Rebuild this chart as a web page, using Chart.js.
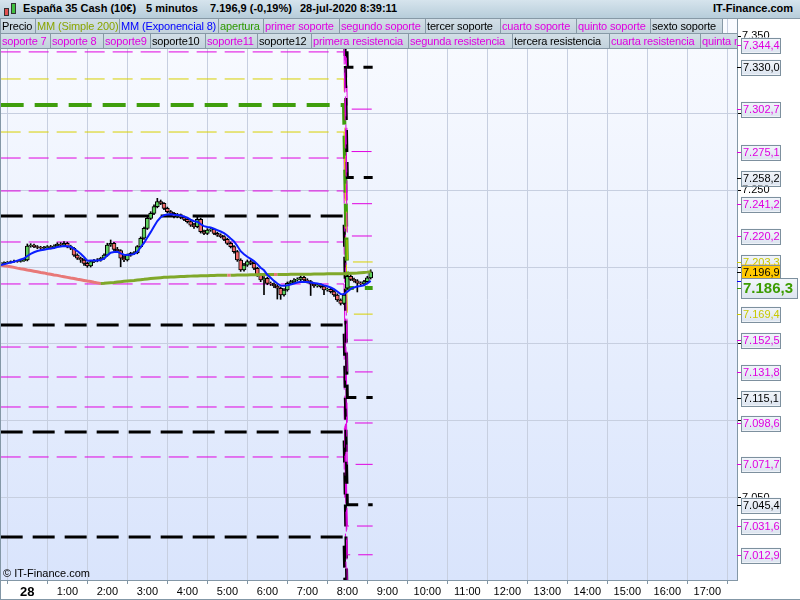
<!DOCTYPE html>
<html>
<head>
<meta charset="utf-8">
<script src="https://cdn.jsdelivr.net/npm/chart.js@4.4.0/dist/chart.umd.min.js"></script>
<style>
  body { margin: 0; width: 800px; height: 600px; position: relative; overflow: hidden; background: #fff;
         font-family: "Liberation Sans", Arial, sans-serif; }
  #grafico { position: absolute; left: 0; top: 0; }
  #titulo { position: absolute; left: 0; top: 0; width: 800px; height: 19px;
            background: linear-gradient(#d6e4ed, #b7cdda); border-bottom: 1px solid #8799a6; box-sizing: border-box; }
  #titulo span { position: absolute; top: 2px; font: bold 11px "Liberation Sans", Arial, sans-serif; color: #000; white-space: nowrap; }
  .fila { position: absolute; left: 0; width: 737px; height: 16px; overflow: hidden; }
  .fila span { position: absolute; top: 0; height: 16px; box-sizing: border-box; border: 1px solid #8799a6;
               background: linear-gradient(#d3dfe7, #c2d2dc); font-size: 11px; line-height: 14px; padding-left: 1px;
               letter-spacing: -0.15px; white-space: nowrap; overflow: hidden; }
  #copy { position: absolute; left: 3px; top: 567px; font-size: 11px; color: #000; }
  .vela { position: absolute; border: 1px solid #333; width: 3px; }
</style>
</head>
<body>
<canvas id="grafico" width="800" height="600"></canvas>

<div id="titulo">
  <div class="vela" style="left:4px;top:8px;height:6px;background:#e05050"></div>
  <div class="vela" style="left:11px;top:3px;height:9px;background:#40c040"></div>
  <span style="left:23px">España 35 Cash (10€)</span>
  <span style="left:146px">5 minutos</span>
  <span style="left:210px">7.196,9 (-0,19%)</span>
  <span style="left:300px">28-jul-2020 8:39:11</span>
  <span style="left:713px">IT-Finance.com</span>
</div>

<div class="fila" style="top:18px">
  <span style="left:0;width:36px;color:#000">Precio</span>
  <span style="left:35px;width:85px;color:#8aa500">MM (Simple 200)</span>
  <span style="left:119px;width:100px;color:#0000ff">MM (Exponencial 8)</span>
  <span style="left:218px;width:46px;color:#2e9a00">apertura</span>
  <span style="left:263px;width:77px;color:#e000e0">primer soporte</span>
  <span style="left:339px;width:87px;color:#e000e0">segundo soporte</span>
  <span style="left:425px;width:76px;color:#000">tercer soporte</span>
  <span style="left:500px;width:77px;color:#e000e0">cuarto soporte</span>
  <span style="left:576px;width:75px;color:#e000e0">quinto soporte</span>
  <span style="left:650px;width:73px;color:#000">sexto soporte</span>
</div>
<div class="fila" style="top:33px">
  <span style="left:0;width:51px;color:#e000e0">soporte 7</span>
  <span style="left:50px;width:54px;color:#e000e0">soporte 8</span>
  <span style="left:103px;width:48px;color:#e000e0">soporte9</span>
  <span style="left:150px;width:56px;color:#000">soporte10</span>
  <span style="left:205px;width:53px;color:#e000e0">soporte11</span>
  <span style="left:257px;width:55px;color:#000">soporte12</span>
  <span style="left:311px;width:98px;color:#e000e0">primera resistencia</span>
  <span style="left:408px;width:105px;color:#e000e0">segunda resistencia</span>
  <span style="left:512px;width:98px;color:#000">tercera resistencia</span>
  <span style="left:609px;width:92px;color:#e000e0">cuarta resistencia</span>
  <span style="left:700px;width:100px;color:#e000e0">quinta resistencia</span>
</div>

<div id="copy">© IT-Finance.com</div>

<script>
// Eje horizontal: minutos desde las 0:00 del día 28
const horas = [0, 60, 120, 180, 240, 300, 360, 420, 480, 540, 600, 660, 720, 780, 840, 900, 960, 1020];
const etiquetasHoras = ['28', '1:00', '2:00', '3:00', '4:00', '5:00', '6:00', '7:00', '8:00', '9:00',
                        '10:00', '11:00', '12:00', '13:00', '14:00', '15:00', '16:00', '17:00'];
const ticksPrecio = [7050, 7100, 7150, 7200, 7250, 7300, 7350];

// Velas de 5 minutos, la primera a las 23:20 del día anterior
const inicioVelas = -40;
const pasoVelas = 5;

const aperturas = [
  7202.0, 7202.4, 7202.9, 7203.1, 7203.5, 7203.9, 7203.7, 7204.2, 7204.6, 7213.7,
  7214.3, 7213.3, 7212.8, 7212.2, 7212.6, 7213.3, 7212.6, 7213.7, 7215.0, 7214.3,
  7215.4, 7213.3, 7212.2, 7207.8, 7205.7, 7204.6, 7202.4, 7200.7, 7203.5, 7204.2,
  7204.6, 7205.7, 7207.8, 7214.3, 7215.4, 7211.5, 7210.7, 7205.7, 7204.6, 7207.8,
  7208.9, 7209.4, 7213.3, 7218.7, 7225.2, 7231.7, 7234.9, 7239.3, 7242.5, 7241.4,
  7238.2, 7236.0, 7234.9, 7232.8, 7233.8, 7232.3, 7231.0, 7229.5, 7227.3, 7226.3,
  7231.0, 7223.0, 7221.9, 7224.1, 7224.5, 7221.9, 7220.8, 7219.8, 7218.0, 7215.4,
  7213.3, 7210.0, 7204.6, 7198.1, 7201.3, 7203.5, 7202.4, 7199.2, 7194.8, 7191.6,
  7192.7, 7189.4, 7189.0, 7187.7, 7186.2, 7181.8, 7185.1, 7189.4, 7190.5, 7191.6,
  7192.0, 7193.3, 7191.6, 7190.5, 7189.0, 7187.7, 7188.4, 7187.3, 7185.1, 7185.5,
  7184.0, 7181.8, 7178.6, 7176.4,
  7186.3, 7194.0, 7192.0, 7191.0, 7189.5, 7189.0, 7190.5, 7193.0
];
const maximos = [
  7203.0, 7203.4, 7203.6, 7204.0, 7204.5, 7204.3, 7204.8, 7205.2, 7215.0, 7215.2,
  7214.9, 7214.0, 7213.5, 7213.4, 7214.0, 7214.1, 7214.5, 7215.8, 7215.9, 7216.5,
  7216.2, 7214.2, 7212.9, 7208.6, 7206.5, 7205.3, 7203.2, 7204.3, 7205.0, 7205.5,
  7206.4, 7208.6, 7215.5, 7217.6, 7216.1, 7212.8, 7211.3, 7207.4, 7208.5, 7209.6,
  7210.1, 7214.0, 7219.6, 7226.0, 7232.6, 7236.0, 7240.5, 7244.7, 7243.6, 7242.0,
  7239.0, 7236.8, 7235.6, 7234.9, 7234.5, 7233.1, 7231.9, 7230.3, 7228.4, 7232.6,
  7231.8, 7224.0, 7225.0, 7225.6, 7225.2, 7222.7, 7221.6, 7220.5, 7218.8, 7216.3,
  7214.0, 7210.8, 7205.4, 7202.5, 7204.6, 7204.4, 7203.1, 7199.9, 7195.6, 7193.8,
  7193.5, 7190.3, 7189.8, 7188.6, 7187.0, 7186.0, 7190.3, 7191.4, 7192.5, 7193.0,
  7194.2, 7194.0, 7192.4, 7191.3, 7189.8, 7189.3, 7189.1, 7188.0, 7186.4, 7186.2,
  7184.8, 7182.6, 7179.3, 7182.7,
  7196.0, 7195.0, 7192.8, 7191.8, 7190.4, 7191.3, 7194.0, 7198.2
];
const minimos = [
  7201.4, 7201.9, 7202.2, 7202.6, 7203.0, 7203.1, 7203.2, 7203.6, 7204.0, 7212.9,
  7212.6, 7211.9, 7211.4, 7211.5, 7211.9, 7211.8, 7212.0, 7212.9, 7213.5, 7213.6,
  7212.5, 7211.3, 7206.9, 7204.9, 7203.0, 7201.1, 7199.8, 7200.0, 7202.8, 7203.4,
  7203.8, 7204.9, 7207.0, 7213.4, 7210.6, 7209.8, 7200.2, 7203.5, 7203.9, 7207.0,
  7208.1, 7208.6, 7212.5, 7217.9, 7224.4, 7230.9, 7234.0, 7238.5, 7240.6, 7237.3,
  7235.1, 7234.0, 7231.9, 7232.0, 7231.4, 7230.2, 7228.6, 7226.4, 7225.2, 7225.5,
  7222.1, 7221.0, 7221.1, 7223.2, 7221.0, 7219.9, 7219.0, 7217.1, 7214.5, 7212.4,
  7209.1, 7203.7, 7197.2, 7197.4, 7200.4, 7201.5, 7198.3, 7193.9, 7190.5, 7182.0,
  7188.5, 7188.0, 7186.6, 7179.2, 7179.0, 7181.0, 7184.3, 7188.6, 7189.6, 7190.8,
  7191.1, 7190.8, 7189.6, 7181.5, 7186.8, 7186.9, 7186.4, 7182.0, 7184.3, 7183.1,
  7180.9, 7177.6, 7175.3, 7175.6,
  7185.5, 7191.2, 7190.1, 7183.8, 7188.1, 7188.3, 7189.7, 7192.2
];
const cierres = [
  7202.4, 7202.9, 7203.1, 7203.5, 7203.9, 7203.7, 7204.2, 7204.6, 7213.7, 7214.3,
  7213.3, 7212.8, 7212.2, 7212.6, 7213.3, 7212.6, 7213.7, 7215.0, 7214.3, 7215.4,
  7213.3, 7212.2, 7207.8, 7205.7, 7204.6, 7202.4, 7200.7, 7203.5, 7204.2, 7204.6,
  7205.7, 7207.8, 7214.3, 7215.4, 7211.5, 7210.7, 7205.7, 7204.6, 7207.8, 7208.9,
  7209.4, 7213.3, 7218.7, 7225.2, 7231.7, 7234.9, 7239.3, 7242.5, 7241.4, 7238.2,
  7236.0, 7234.9, 7232.8, 7233.8, 7232.3, 7231.0, 7229.5, 7227.3, 7226.3, 7231.0,
  7223.0, 7221.9, 7224.1, 7224.5, 7221.9, 7220.8, 7219.8, 7218.0, 7215.4, 7213.3,
  7210.0, 7204.6, 7198.1, 7201.3, 7203.5, 7202.4, 7199.2, 7194.8, 7191.6, 7192.7,
  7189.4, 7189.0, 7187.7, 7186.2, 7181.8, 7185.1, 7189.4, 7190.5, 7191.6, 7192.0,
  7193.3, 7191.6, 7190.5, 7189.0, 7187.7, 7188.4, 7187.3, 7185.1, 7185.5, 7184.0,
  7181.8, 7178.6, 7176.4, 7181.8,
  7194.0, 7192.0, 7191.0, 7189.5, 7189.0, 7190.5, 7193.0, 7196.9
];

// Medias móviles, un valor por vela
const mmSimple200 = [
  7201.3, 7200.9, 7200.5, 7200.2, 7199.8, 7199.3, 7198.9, 7198.6, 7198.1, 7197.7,
  7197.3, 7196.9, 7196.5, 7196.2, 7195.7, 7195.3, 7194.9, 7194.6, 7194.1, 7193.7,
  7193.3, 7192.9, 7192.6, 7192.1, 7191.7, 7191.3, 7190.9, 7190.6, 7190.1, 7189.7,
  7189.3, 7189.4, 7189.6, 7189.8, 7190.0, 7190.3, 7190.5, 7190.7, 7190.9, 7191.1,
  7191.3, 7191.6, 7191.8, 7192.0, 7192.3, 7192.5, 7192.7, 7192.9, 7193.1, 7193.3,
  7193.4, 7193.5, 7193.6, 7193.7, 7193.8, 7193.9, 7194.0, 7194.1, 7194.2, 7194.2,
  7194.3, 7194.4, 7194.4, 7194.5, 7194.5, 7194.6, 7194.6, 7194.7, 7194.7, 7194.6,
  7194.7, 7194.8, 7194.8, 7194.9, 7194.9, 7195.0, 7195.0, 7195.0, 7195.1, 7195.1,
  7195.1, 7195.2, 7195.2, 7195.1, 7195.1, 7195.2, 7195.2, 7195.3, 7195.3, 7195.3,
  7195.4, 7195.4, 7195.4, 7195.4, 7195.5, 7195.5, 7195.5, 7195.5, 7195.6, 7195.6,
  7195.6, 7195.6, 7195.7, 7195.7,
  7195.8, 7195.9, 7196.0, 7196.1, 7196.3, 7196.5, 7196.7, 7197.0
];
const mmExpo8 = [
  7201.3, 7201.8, 7202.4, 7203.0, 7203.5, 7204.2, 7204.9, 7205.6, 7207.2, 7208.6,
  7209.6, 7210.4, 7210.9, 7211.3, 7211.7, 7212.0, 7212.4, 7213.0, 7213.3, 7213.7,
  7213.5, 7213.2, 7211.8, 7210.4, 7208.6, 7206.5, 7204.1, 7204.2, 7204.2, 7204.3,
  7204.6, 7205.4, 7207.6, 7209.3, 7209.8, 7210.0, 7208.9, 7208.0, 7207.9, 7208.1,
  7208.4, 7209.9, 7212.9, 7215.7, 7219.2, 7222.7, 7226.4, 7229.9, 7232.4, 7233.7,
  7234.2, 7234.4, 7234.0, 7233.9, 7233.5, 7232.9, 7232.1, 7230.9, 7229.8, 7229.5,
  7227.9, 7226.6, 7226.1, 7225.7, 7224.9, 7224.0, 7223.1, 7222.0, 7220.5, 7218.5,
  7216.6, 7213.7, 7210.3, 7208.3, 7206.7, 7205.3, 7203.9, 7201.9, 7199.6, 7197.9,
  7195.0, 7193.0, 7191.0, 7189.3, 7188.0, 7187.8, 7188.2, 7188.7, 7189.3, 7190.0,
  7190.5, 7190.3, 7190.2, 7190.0, 7189.6, 7189.3, 7188.9, 7188.1, 7187.5, 7186.7,
  7185.6, 7184.1, 7182.4, 7182.3,
  7184.0, 7185.8, 7186.7, 7187.4, 7187.7, 7188.2, 7189.3, 7191.0
];

// Niveles: valor de la sesión anterior y valor de la sesión nueva (desde las 8:00)
const cambioSesion = 480;
const finNiveles = 518;
const nivelNombres = [
  'primera resistencia', 'segunda resistencia', 'tercera resistencia', 'cuarta resistencia', 'quinta resistencia',
  'sexta resistencia', 'séptima resistencia', 'zona alta', 'apertura', 'zona baja',
  'primer soporte', 'segundo soporte', 'tercer soporte', 'cuarto soporte', 'quinto soporte', 'sexto soporte',
  'soporte 7', 'soporte 8', 'soporte9', 'soporte10', 'soporte11', 'soporte12'
];
const nivelAnterior = [
  7339.9, 7360.8, 7378.0, 7395.0, 7422.5,
  7450.0, 7464.0, 7322.3, 7305.4, 7287.8,
  7270.9, 7249.5, 7233.2, 7216.3, 7189.0, 7162.3,
  7148.0, 7128.5, 7109.0, 7092.8, 7076.5, 7024.5
];
const nivelNuevo = [
  7220.2, 7241.2, 7258.2, 7275.1, 7302.7,
  7330.0, 7344.4, 7203.3, 7186.3, 7169.4,
  7152.5, 7131.8, 7115.1, 7098.6, 7071.7, 7045.4,
  7031.6, 7012.9, 6992.5, 6975.9, 6959.7, 6907.6
];
const nivelEstilo = [
  'm', 'm', 'k', 'm', 'm',
  'k', 'm', 'y', 'g', 'y',
  'm', 'm', 'k', 'm', 'm', 'k',
  'm', 'm', 'm', 'k', 'm', 'k'
];

const ultimoPrecio = 7196.9;

// Estilos de las líneas de nivel
const estilos = {
  m: { color: '#e000e0', width: 1, dash: [20, 8], texto: '#e000e0' },
  k: { color: '#000000', width: 3, dash: [22, 10], texto: '#000000' },
  y: { color: '#d8d000', width: 1, dash: [20, 8], texto: '#c8c800' },
  g: { color: '#3f9e0c', width: 4, dash: [23, 11], texto: '#3c9c00' }
};

function formatoPrecio(v, decimales) {
  const partes = v.toFixed(decimales).split('.');
  const miles = partes[0].slice(0, -3) + '.' + partes[0].slice(-3);
  return decimales ? miles + ',' + partes[1] : miles;
}

const tiempoVela = (i) => inicioVelas + pasoVelas * i;

// Datasets de niveles
const datasetsNiveles = nivelNombres.map((nombre, i) => {
  const e = estilos[nivelEstilo[i]];
  return {
    type: 'line',
    label: nombre,
    data: [
      { x: inicioVelas, y: nivelAnterior[i] },
      { x: cambioSesion - pasoVelas, y: nivelAnterior[i] },
      { x: cambioSesion, y: nivelNuevo[i] },
      { x: finNiveles, y: nivelNuevo[i] }
    ],
    borderColor: e.color,
    borderWidth: e.width,
    borderDash: e.dash,
    borderCapStyle: 'butt',
    pointRadius: 0,
    tension: 0,
    fill: false,
    order: 10
  };
});

// Fondo degradado del área del gráfico
const fondoPlugin = {
  id: 'fondo',
  beforeDraw(chart) {
    const { ctx, chartArea: a } = chart;
    const g = ctx.createLinearGradient(0, a.top, 0, a.bottom);
    g.addColorStop(0, '#f9fbff');
    g.addColorStop(1, '#d9e4fc');
    ctx.save();
    ctx.fillStyle = g;
    ctx.fillRect(a.left, a.top, a.right - a.left, a.bottom - a.top);
    ctx.restore();
  }
};

// Etiquetas de precio a la derecha + marco
const etiquetasPlugin = {
  id: 'etiquetas',
  afterDraw(chart) {
    const { ctx, chartArea: a } = chart;
    const ys = chart.scales.y;
    ctx.save();
    ctx.strokeStyle = '#8397a6';
    ctx.lineWidth = 1;
    ctx.strokeRect(a.left - 0.5, a.top - 0.5, a.right - a.left + 1, a.bottom - a.top + 1);
    ctx.beginPath();
    ctx.moveTo(0.5, 0); ctx.lineTo(0.5, 600);
    ctx.moveTo(0, 599.5); ctx.lineTo(800, 599.5);
    ctx.stroke();

    function caja(valor, colorTexto, fondo, grande) {
      const y = Math.round(ys.getPixelForValue(valor));
      const h = grande ? 20 : 15;
      const w = grande ? 56 : 39;
      const x = a.right + 4;
      ctx.strokeStyle = colorTexto;
      ctx.beginPath();
      ctx.moveTo(a.right, y + 0.5); ctx.lineTo(x, y + 0.5);
      ctx.stroke();
      if (fondo) {
        ctx.fillStyle = fondo;
      } else {
        const g = ctx.createLinearGradient(0, y - h / 2, 0, y + h / 2);
        g.addColorStop(0, '#f3f6fb');
        g.addColorStop(1, '#dde5f0');
        ctx.fillStyle = g;
      }
      ctx.fillRect(x, y - h / 2, w, h);
      ctx.strokeStyle = '#7d909e';
      ctx.strokeRect(x + 0.5, Math.round(y - h / 2) + 0.5, w, h);
      ctx.fillStyle = colorTexto;
      ctx.font = grande ? 'bold 15px "Liberation Sans", Arial' : '11px "Liberation Sans", Arial';
      ctx.textBaseline = 'middle';
      ctx.textAlign = 'left';
      ctx.fillText(formatoPrecio(valor, 1), x + 2, y + 1);
    }

    nivelNuevo.forEach((v, i) => {
      if (nivelEstilo[i] === 'g' || v < ys.min || v > ys.max) return;
      caja(v, estilos[nivelEstilo[i]].texto, null, false);
    });
    caja(mmExpo8[mmExpo8.length - 1], '#0000ff', null, false);
    caja(ultimoPrecio, '#000000', '#ffc800', false);
    const ap = nivelEstilo.indexOf('g');
    caja(nivelNuevo[ap], estilos.g.texto, null, true);
    ctx.restore();
  }
};

const ctx = document.getElementById('grafico').getContext('2d');
new Chart(ctx, {
  type: 'bar',
  data: {
    datasets: [
      {
        type: 'line',
        label: 'MM (Exponencial 8)',
        data: mmExpo8.map((v, i) => ({ x: tiempoVela(i), y: v })),
        borderColor: '#0a1eff',
        borderWidth: 2,
        pointRadius: 0,
        tension: 0,
        order: 0
      },
      {
        type: 'line',
        label: 'MM (Simple 200)',
        data: mmSimple200.map((v, i) => ({ x: tiempoVela(i), y: v })),
        borderColor: '#80a82a',
        borderWidth: 3,
        pointRadius: 0,
        tension: 0,
        segment: {
          borderColor: (c) => c.p1.parsed.y < c.p0.parsed.y ? '#e87878' : '#80a82a'
        },
        order: 1
      },
      {
        label: 'Precio',
        data: cierres.map((c, i) => ({ x: tiempoVela(i), y: [aperturas[i], c] })),
        backgroundColor: (c) => (c.raw && c.raw.y[1] >= c.raw.y[0]) ? '#5fd05f' : '#f06a6a',
        borderColor: '#000',
        borderWidth: 1,
        borderSkipped: false,
        barThickness: 4,
        grouped: false,
        order: 2
      },
      {
        label: 'mechas',
        data: cierres.map((c, i) => ({ x: tiempoVela(i), y: [minimos[i], maximos[i]] })),
        backgroundColor: '#000',
        barThickness: 1,
        grouped: false,
        order: 3
      },
      ...datasetsNiveles
    ]
  },
  options: {
    responsive: false,
    animation: false,
    events: [],
    layout: { padding: { left: 1, top: 19, right: 0, bottom: 0 } },
    plugins: {
      legend: { display: false },
      tooltip: { enabled: false }
    },
    scales: {
      x: {
        type: 'linear',
        min: -39.5,
        max: 1064.5,
        offset: false,
        afterBuildTicks: (s) => { s.ticks = horas.map((v) => ({ value: v })); },
        afterFit: (s) => { s.height = 20; },
        ticks: {
          autoSkip: false,
          maxRotation: 0,
          padding: 1,
          color: '#000',
          font: (c) => (c.tick && c.tick.value === 0) ? { size: 13, weight: 'bold', family: '"Liberation Sans", Arial' } : { size: 11, family: '"Liberation Sans", Arial' },
          callback: (v) => etiquetasHoras[horas.indexOf(v)]
        },
        grid: { color: '#c7cfe0', tickLength: 4, tickColor: '#8397a6' },
        border: { display: false }
      },
      y: {
        type: 'linear',
        position: 'right',
        min: 6996.5,
        max: 7361.3,
        afterBuildTicks: (s) => { s.ticks = ticksPrecio.map((v) => ({ value: v })); },
        afterFit: (s) => { s.width = 63; },
        ticks: {
          padding: 1,
          color: '#000',
          font: { size: 11, family: '"Liberation Sans", Arial' },
          callback: (v) => formatoPrecio(v, 0)
        },
        grid: { color: '#c7cfe0', tickLength: 4, tickColor: '#000' },
        border: { display: false }
      }
    }
  },
  plugins: [fondoPlugin, etiquetasPlugin]
});
</script>
</body>
</html>
